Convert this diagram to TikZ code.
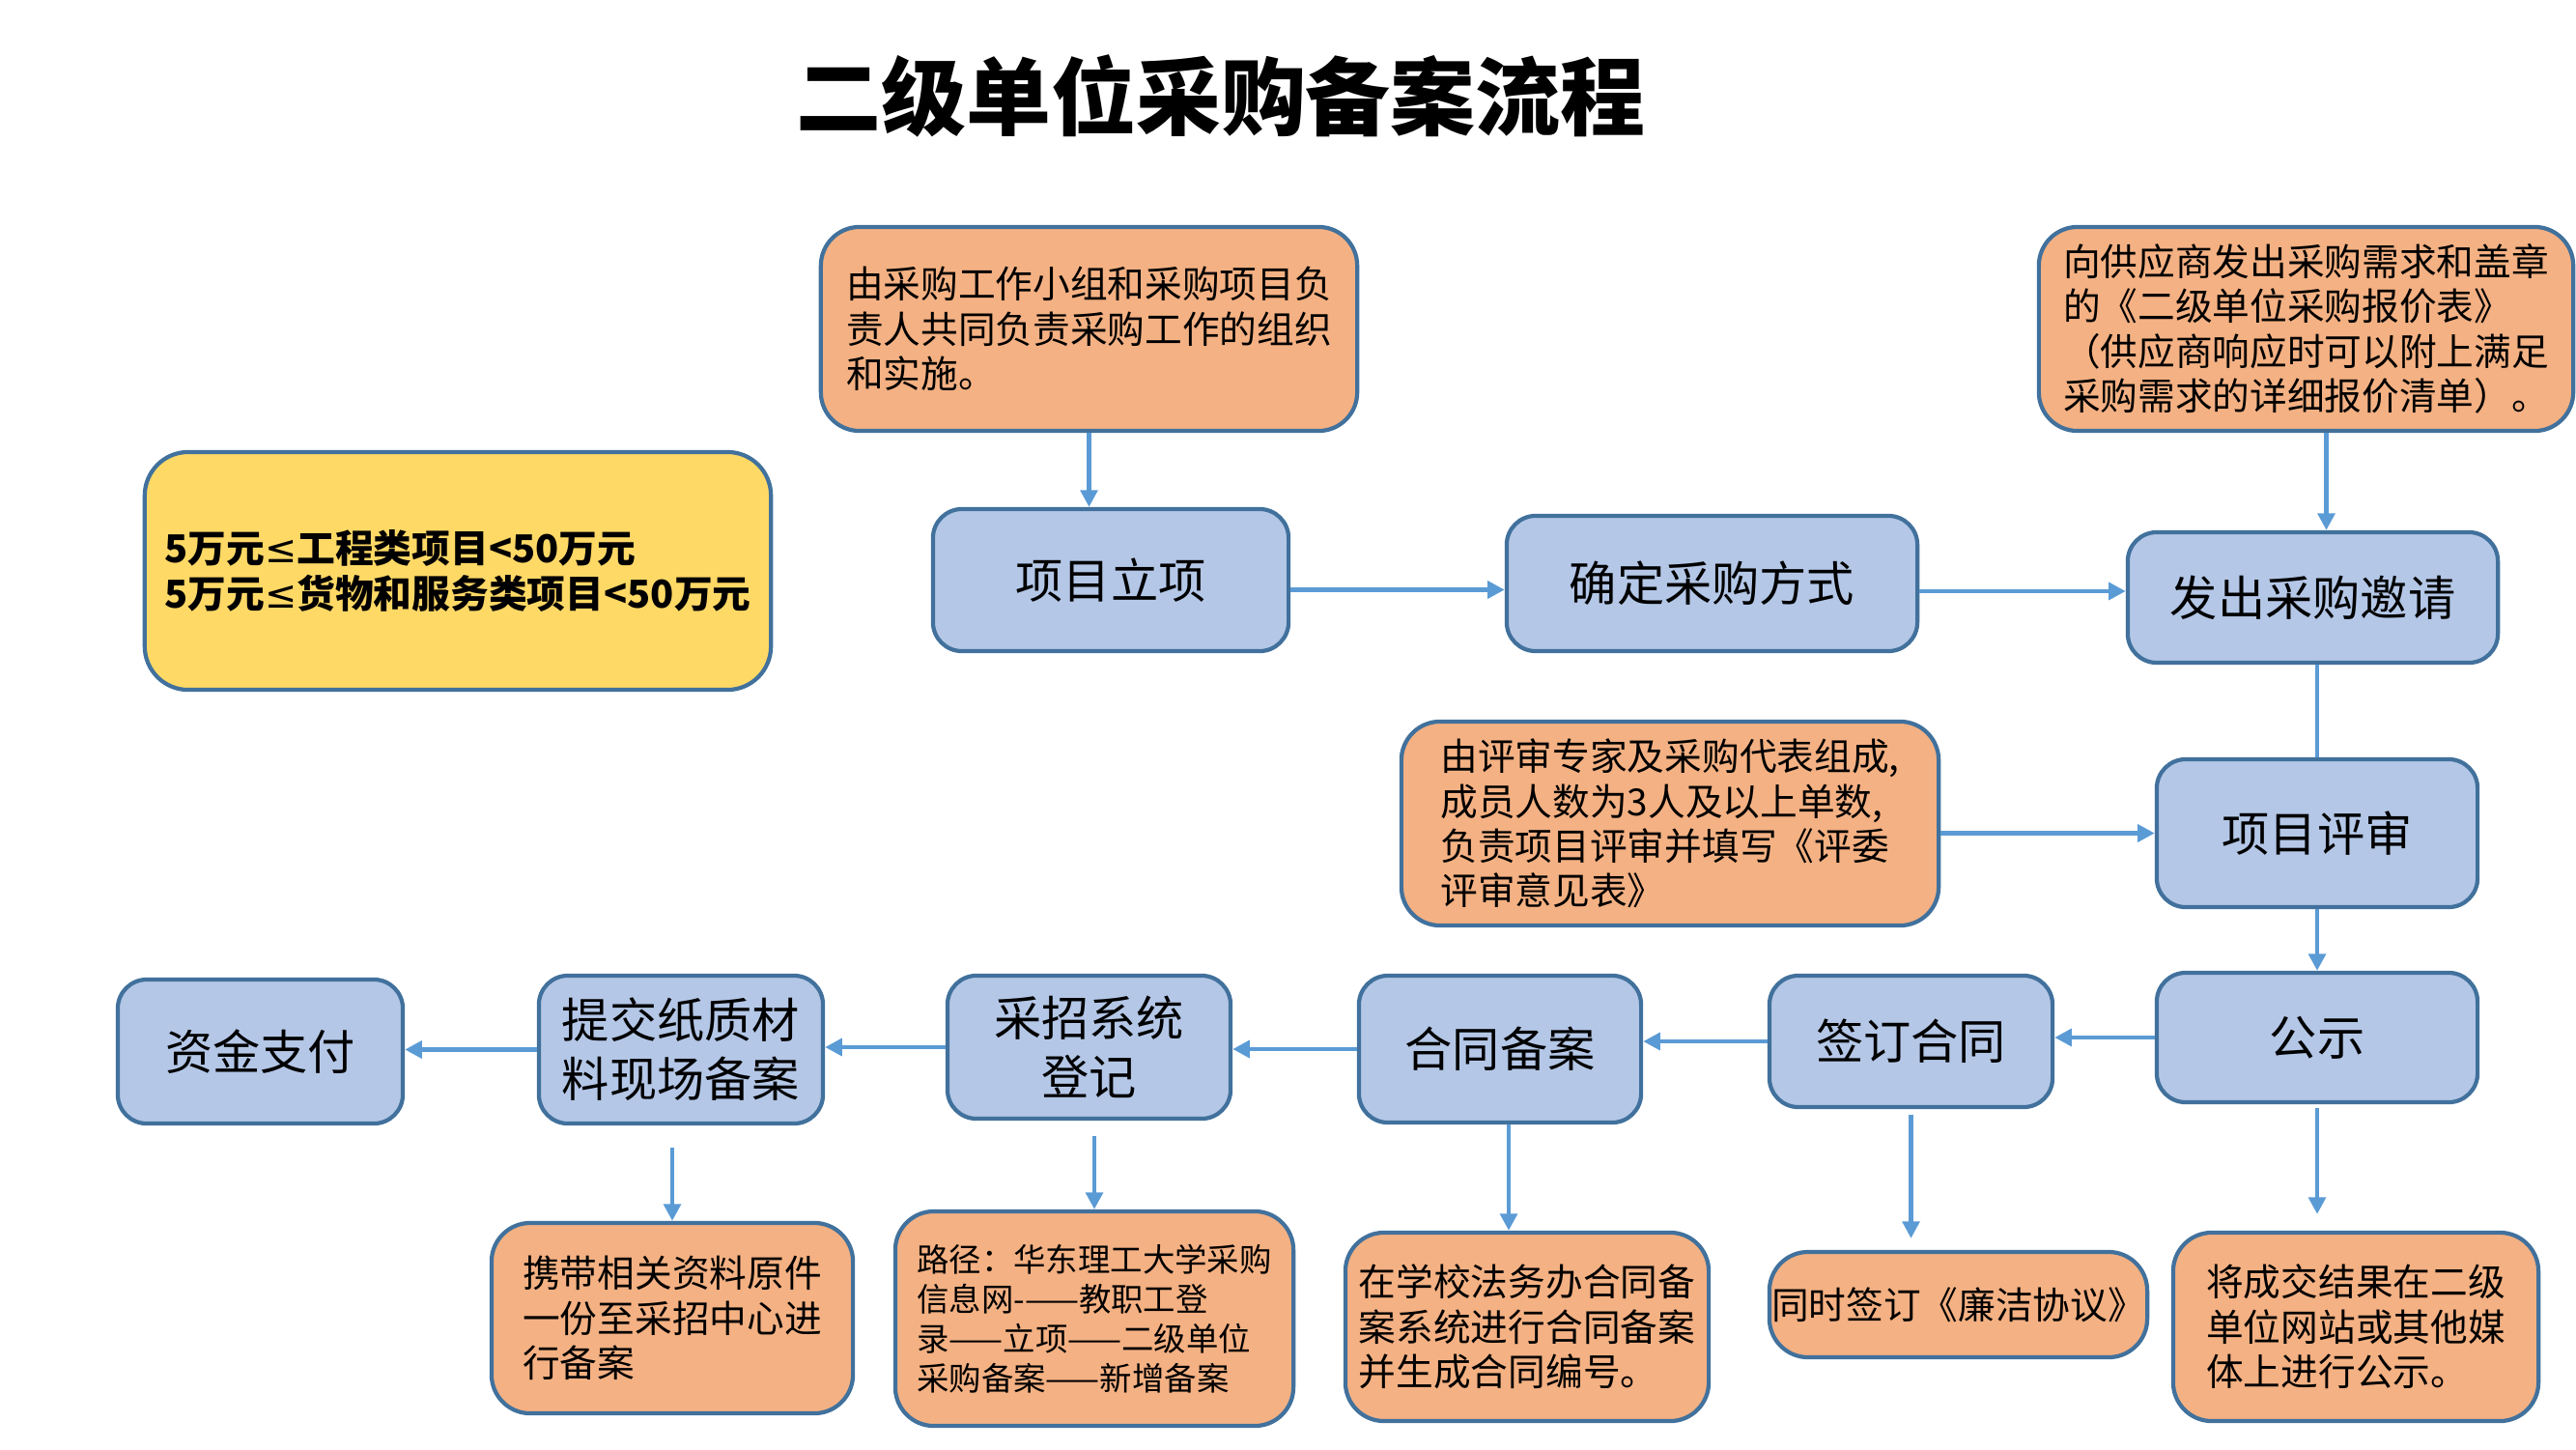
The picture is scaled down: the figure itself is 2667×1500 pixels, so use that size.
\documentclass[tikz,border=0pt]{standalone}
\usepackage{fontspec}
\setmainfont{Noto Sans CJK SC}
\newfontfamily\symfont{DejaVu Sans}
\usetikzlibrary{arrows.meta,calc}
\definecolor{bfill}{HTML}{B4C7E7}
\definecolor{ofill}{HTML}{F4B183}
\definecolor{yfill}{HTML}{FFD966}
\definecolor{bdr}{HTML}{41719C}
\definecolor{arrc}{HTML}{5B9BD5}
\newcommand{\mylesseq}{{\symfont\mdseries ≤}}
\tikzset{
  box/.style={draw=bdr, line width=1.2pt, inner sep=0pt},
  bbox/.style={box, fill=bfill, rounded corners=0.3cm, align=center, font=\fontsize{14}{17.4}\selectfont},
  obox/.style={box, fill=ofill, rounded corners=0.4cm, align=left, font=\fontsize{11}{13.2}\selectfont},
  ybox/.style={box, fill=yfill, rounded corners=0.45cm, align=left, font=\fontsize{11.3}{13.2}\selectfont\bfseries},
  arr/.style={draw=arrc, line width=1.3pt, -{Triangle[length=5pt,width=5pt]}},
  plainline/.style={draw=arrc, line width=1.3pt}
}
\begin{document}
\begin{tikzpicture}[x=0.01cm,y=-0.01cm]
\useasboundingbox (0,0) rectangle (2667,1500);
\node[font=\fontsize{25}{30}\selectfont\bfseries] (title) at (1264,99) {二级单位采购备案流程};

% top row
\node[obox, minimum width=5.55cm, minimum height=2.11cm] (o1) at (1127.5,340.5)
  {由采购工作小组和采购项目负\\责人共同负责采购工作的组织\\和实施。};
\node[obox, minimum width=5.53cm, minimum height=2.11cm] (o2) at (2387.5,340.5)
  {向供应商发出采购需求和盖章\\的《二级单位采购报价表》\\（供应商响应时可以附上满足\\采购需求的详细报价清单）。};
\node[ybox, minimum width=6.48cm, minimum height=2.46cm] (y1) at (474,591)
  {5万元\mylesseq 工程类项目<50万元\\5万元\mylesseq 货物和服务类项目<50万元};
\node[bbox, minimum width=3.68cm, minimum height=1.47cm] (b1) at (1150,600.5) {项目立项};
\node[bbox, minimum width=4.25cm, minimum height=1.40cm] (b2) at (1772.5,604) {确定采购方式};
\node[bbox, minimum width=3.83cm, minimum height=1.35cm] (b3) at (2394.5,618.5) {发出采购邀请};

% middle
\node[obox, minimum width=5.56cm, minimum height=2.11cm] (o3) at (1729,852.5)
  {由评审专家及采购代表组成,\\成员人数为3人及以上单数,\\负责项目评审并填写《评委\\评审意见表》};
\node[bbox, minimum width=3.32cm, minimum height=1.53cm] (b4) at (2399,862.5) {项目评审};

% process row
\node[bbox, minimum width=3.32cm, minimum height=1.34cm] (b5) at (2399,1074) {公示};
\node[bbox, minimum width=2.93cm, minimum height=1.36cm] (b6) at (1978.5,1078) {签订合同};
\node[bbox, minimum width=2.92cm, minimum height=1.52cm] (b7) at (1553,1086) {合同备案};
\node[bbox, minimum width=2.93cm, minimum height=1.48cm] (b8) at (1127.5,1084) {采招系统\\登记};
\node[bbox, minimum width=2.94cm, minimum height=1.53cm] (b9) at (705,1086.5) {提交纸质材\\料现场备案};
\node[bbox, minimum width=2.95cm, minimum height=1.49cm] (b10) at (269.5,1088.5) {资金支付};

% bottom notes
\node[obox, minimum width=3.74cm, minimum height=1.97cm] (o4) at (696,1364.5)
  {携带相关资料原件\\一份至采招中心进\\行备案};
\node[obox, minimum width=4.12cm, minimum height=2.22cm, font=\fontsize{9.5}{11.6}\selectfont] (o5) at (1133,1365)
  {路径：华东理工大学采购\\信息网-——教职工登\\录——立项——二级单位\\采购备案——新增备案};
\node[obox, minimum width=3.76cm, minimum height=1.95cm] (o6) at (1581,1373.5)
  {在学校法务办合同备\\案系统进行合同备案\\并生成合同编号。};
\node[obox, minimum width=3.91cm, minimum height=1.09cm] (o7) at (2027.5,1350.5)
  {同时签订《廉洁协议》};
\node[obox, minimum width=3.78cm, minimum height=1.95cm] (o8) at (2439,1373.5)
  {将成交结果在二级\\单位网站或其他媒\\体上进行公示。};

% connectors
\draw[arr] (o1.south) -- (o1.south |- b1.north);
\draw[arr] ($(b1.east)+(0,10)$) -- ($(b2.west |- b1.east)+(0,10)$);
\draw[arr] ($(b2.east)+(0,8)$) -- ($(b3.west |- b2.east)+(0,8)$);
\draw[arr] ($(o2.south)+(21,0)$) -- ($(o2.south |- b3.north)+(21,0)$);
\draw[plainline] (b4.north |- b3.south) -- (b4.north);
\draw[arr] (o3.east |- b4.west) -- (b4.west);
\draw[arr] (b4.south) -- (b5.north);
\draw[arr] (b5.west) -- (b6.east |- b5.west);
\draw[arr] (b6.west) -- (b7.east |- b6.west);
\draw[arr] (b7.west) -- (b8.east |- b7.west);
\draw[arr] (b8.west) -- (b9.east |- b8.west);
\draw[arr] (b9.west) -- (b10.east |- b9.west);
\draw[arr] ($(o4.north |- b9.south)+(0,23)$) -- (o4.north);
\draw[arr] ($(o5.north |- b8.south)+(0,16)$) -- (o5.north);
\draw[arr] ($(b7.south)+(9,0)$) -- ($(b7.south |- o6.north)+(9,0)$);
\draw[arr] ($(b6.south)+(0,6)$) -- ($(b6.south |- o7.north)+(0,-12)$);
\draw[arr] ($(b5.south)+(0,4)$) -- ($(b5.south |- o8.north)+(0,-17)$);
\end{tikzpicture}
\end{document}
